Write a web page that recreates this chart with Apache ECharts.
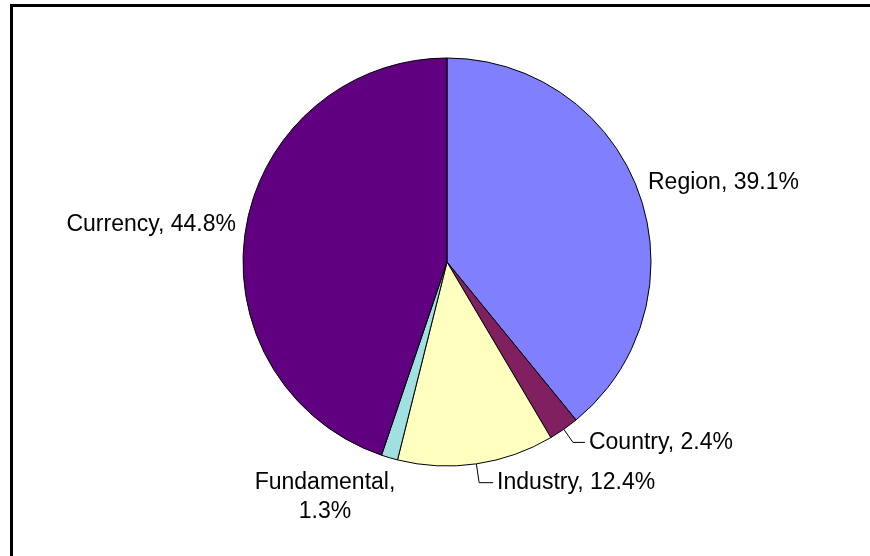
<!DOCTYPE html>
<html>
<head>
<meta charset="utf-8">
<script src="https://cdn.jsdelivr.net/npm/echarts@6/dist/echarts.min.js"></script>
<style>
html,body{margin:0;padding:0;background:#fff;}
#chart{width:870px;height:556px;}
</style>
</head>
<body>
<div id="chart"></div>
<script>
const categories = ['Region', 'Country', 'Industry', 'Fundamental', 'Currency'];
const values = [39.1, 2.4, 12.4, 1.3, 44.8];
const colors = ['#8080FF', '#802060', '#FFFFC0', '#A0E0E0', '#600080'];

// label placement tweaks (style only)
const withLeader = { Country: { length: 16, length2: 12 }, Industry: { length: 19, length2: 14 } };
const fixedLabels = {
  Region: { x: 648, y: 183, align: 'left' },
  Currency: { x: 236, y: 225, align: 'right' },
  Fundamental: { x: 325, y: 497, align: 'center' }
};

const data = categories.map((name, i) => {
  const lead = withLeader[name];
  return {
    name: name,
    value: values[i],
    itemStyle: { color: colors[i] },
    labelLine: lead ? { show: true, length: lead.length, length2: lead.length2 } : { show: false }
  };
});

const chart = echarts.init(document.getElementById('chart'), null, { renderer: 'canvas' });
chart.setOption({
  animation: false,
  backgroundColor: '#ffffff',
  graphic: [
    { type: 'rect', shape: { x: 10, y: 4, width: 860, height: 3 }, style: { fill: '#000' }, silent: true },
    { type: 'rect', shape: { x: 10, y: 4, width: 3, height: 552 }, style: { fill: '#000' }, silent: true }
  ],
  series: [{
    type: 'pie',
    center: [447, 262],
    radius: 204,
    startAngle: 90,
    clockwise: true,
    avoidLabelOverlap: false,
    itemStyle: { borderColor: '#000', borderWidth: 1 },
    emphasis: { disabled: true },
    label: {
      show: true,
      position: 'outside',
      color: '#000',
      fontFamily: 'Liberation Sans, Arial, sans-serif',
      fontSize: 23,
      lineHeight: 29.5,
      distanceToLabelLine: 4,
      formatter: function (p) {
        const sep = p.name === 'Fundamental' ? ',\n' : ', ';
        return p.name + sep + p.value.toFixed(1) + '%';
      }
    },
    labelLine: {
      lineStyle: { color: '#000', width: 1 },
      smooth: false
    },
    labelLayout: function (params) {
      const name = categories[params.dataIndex];
      const f = fixedLabels[name];
      if (f) {
        return { x: f.x, y: f.y, align: f.align, verticalAlign: 'middle' };
      }
      return {};
    },
    data: data
  }]
});
</script>
</body>
</html>
